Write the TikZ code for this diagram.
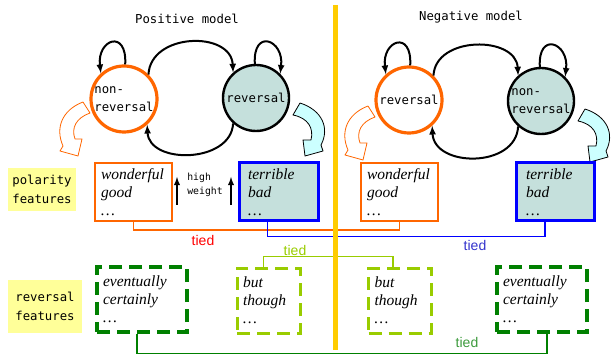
\documentclass[tikz,border=0pt]{standalone}
\usepackage{fontspec}
\setmainfont{Liberation Serif}
\setsansfont{Liberation Sans}
\setmonofont{DejaVu Sans Mono}
\definecolor{hmmorange}{HTML}{FF6600}
\definecolor{hmmteal}{HTML}{C5E0DC}
\definecolor{hmmcyan}{HTML}{CCFFFF}
\definecolor{divider}{HTML}{FFCC00}
\definecolor{notepaper}{HTML}{FFFF99}
\definecolor{darkgreen}{HTML}{008000}
\definecolor{limegreen}{HTML}{99CC00}
\definecolor{tieblue}{HTML}{3333CC}
\definecolor{tiegreen}{HTML}{3C9A3C}
\tikzset{
  >=latex,
}
\tikzstyle{every node}=[font=\ttfamily\fontsize{12.3}{18.5}\selectfont]
\tikzstyle{state}=[circle,minimum size=66pt,inner sep=0pt,align=left]
\tikzstyle{orangestate}=[state,draw=hmmorange,line width=3.2pt,fill=white]
\tikzstyle{tealstate}=[state,draw=black,line width=2.4pt,fill=hmmteal]
\tikzstyle{trans}=[line width=2pt,->]
\tikzstyle{weight}=[line width=1.8pt,->]
\tikzstyle{bigarrow}=[line width=.8pt,line join=round]
\tikzstyle{featbox}=[minimum height=58pt,inner xsep=6pt,inner ysep=2pt,align=left,font=\itshape\fontsize{15.5}{18}\selectfont]
\tikzstyle{revbox}=[featbox,minimum height=65pt,line width=3.5pt,dash pattern=on 13pt off 7pt]
\tikzstyle{notebox}=[fill=notepaper,align=center]
\tikzstyle{tie}=[line width=1.3pt]
\tikzstyle{tied}=[font=\sffamily\fontsize{14}{16}\selectfont]

\begin{document}
\begin{tikzpicture}[x=1pt,y=-1pt]
    \useasboundingbox (0,0) rectangle (613,358);
    \node (postitle) at (187,19) {Positive model};
    \node (negtitle) at (471,17) {Negative model};
    % output arrows
    \draw[bigarrow,draw=hmmorange,fill=white] (83,102) .. controls (62,110) and (55,128) .. (63,146)
      -- (60,151) -- (78,156) -- (82,139) -- (75,139) .. controls (71,128) and (76,118) .. (90,113) -- cycle;
    \draw[bigarrow,fill=hmmcyan] (300,103) .. controls (322,110) and (330,128) .. (321,145)
      -- (323,151) -- (305,156) -- (303,140) -- (311,140) .. controls (314,128) and (308,118) .. (293,115) -- cycle;
    \begin{scope}[shift={(285,4)}]
      \draw[bigarrow,draw=hmmorange,fill=white] (83,102) .. controls (62,110) and (55,128) .. (63,146)
        -- (60,151) -- (78,156) -- (82,139) -- (75,139) .. controls (71,128) and (76,118) .. (90,113) -- cycle;
    \end{scope}
    \begin{scope}[shift={(285,6)}]
      \draw[bigarrow,fill=hmmcyan] (300,103) .. controls (322,110) and (330,128) .. (321,145)
        -- (323,151) -- (305,156) -- (303,140) -- (311,140) .. controls (314,128) and (308,118) .. (293,115) -- cycle;
    \end{scope}
    % positive model
    \node[orangestate] (pnon) at (124,99) {non-\\reversal};
    \node[tealstate] (prev) at (256,98) {reversal};
    \draw[trans] (pnon.88) .. controls +(2,-36) and +(-4,-34) .. (pnon.132);
    \draw[trans] (prev.92) .. controls +(-2,-36) and +(4,-34) .. (prev.45);
    \draw[trans] (pnon.45) .. controls +(2,-42) and +(-2,-42) .. (prev.132);
    \draw[trans] (prev.228) .. controls +(-2,40) and +(2,40) .. (pnon.312);
    % negative model
    \node[orangestate] (nrev) at (409,100) {reversal};
    \node[tealstate] (nnon) at (541,101) {non-\\reversal};
    \draw[trans] (nrev.88) .. controls +(2,-36) and +(-4,-34) .. (nrev.132);
    \draw[trans] (nnon.92) .. controls +(-2,-36) and +(4,-34) .. (nnon.45);
    \draw[trans] (nrev.45) .. controls +(2,-40) and +(-2,-40) .. (nnon.132);
    \draw[trans] (nnon.228) .. controls +(-2,42) and +(2,42) .. (nrev.312);
    % polarity features
    \node[notebox,minimum width=68pt,minimum height=43pt] (polfeat) at (42,189.5) {polarity\\features};
    \node[featbox,draw=hmmorange,line width=2pt,text width=65pt] (pwon) at (133.5,192) {wonderful\\good\\\ldots};
    \node[featbox,draw=blue,fill=hmmteal,line width=3pt,inner xsep=9pt,text width=61pt] (pter) at (278.5,192) {terrible\\bad\\\ldots};
    \node[featbox,draw=hmmorange,line width=2pt,text width=65pt] (nwon) at (399.5,192) {wonderful\\good\\\ldots};
    \node[featbox,draw=blue,fill=hmmteal,line width=3pt,inner xsep=10pt,text width=58pt] (nter) at (555,192) {terrible\\bad\\\ldots};
    \node[font=\ttfamily\fontsize{9.8}{14.5}\selectfont,align=left] (hw) at (205,185) {high\\weight};
    \coordinate (hwa) at (177,205);
    \coordinate (hwb) at (231,205);
    \draw[weight] (hwa) -- ++(0,-28);
    \draw[weight] (hwb) -- ++(0,-28);
    % reversal features
    \node[notebox,minimum width=74pt,minimum height=53pt] (revfeat) at (45,306.5) {reversal\\features};
    \node[revbox,draw=darkgreen,text width=78pt] (pev) at (142,299.5) {eventually\\certainly\\\ldots};
    \node[revbox,draw=limegreen,line width=3pt,text width=51pt] (pbut) at (268.5,300.5) {but\\though\\\ldots};
    \node[revbox,draw=limegreen,line width=3pt,text width=51pt] (nbut) at (400,300.5) {but\\though\\\ldots};
    \node[revbox,draw=darkgreen,text width=78pt] (nev) at (542,299.5) {eventually\\certainly\\\ldots};
    % ties
    \draw[tie,hmmorange] (pwon.south) -- ++(0,8) -| (nwon.south);
    \node[tied,red] (tiedpol) at (203,240) {tied};
    \draw[tie,blue] ([xshift=-11pt]pter.south) -- ++(0,14) -| ([xshift=-10pt]nter.south);
    \node[tied,tieblue] (tiedneg) at (475,245) {tied};
    \draw[tie,limegreen] ([xshift=-5pt]pbut.north) -- ++(0,-10) -| ([xshift=-7pt]nbut.north);
    \node[tied,limegreen] (tiedbut) at (295,250) {tied};
    \draw[tie,darkgreen] ([xshift=-5pt]pev.south) -- ++(0,20) -| ([xshift=5pt]nev.south);
    \node[tied,tiegreen] (tiedev) at (467,342) {tied};
    % divider
    \draw[line width=5pt,divider] (335,5) -- (335,350);
\end{tikzpicture}
\end{document}
